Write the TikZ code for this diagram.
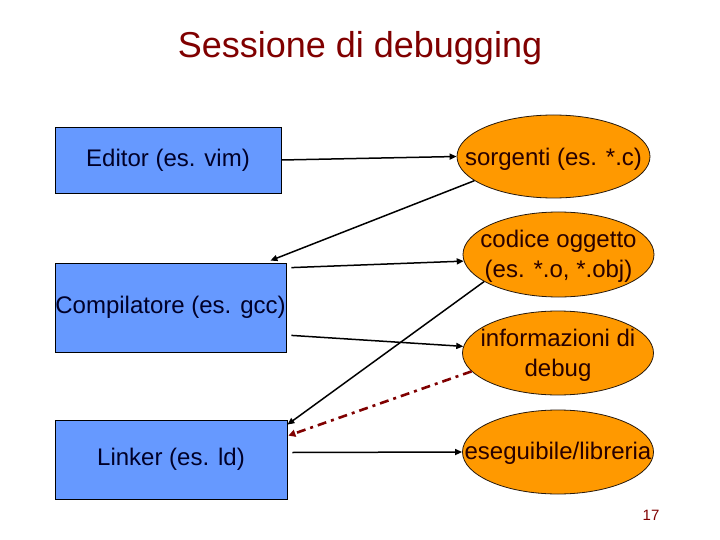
\documentclass[tikz,border=0pt]{standalone}
\usepackage{fontspec}
\setmainfont{Liberation Sans}
\usetikzlibrary{shapes.geometric,arrows.meta,calc}
\definecolor{titlered}{RGB}{128,0,0}
\definecolor{boxblue}{RGB}{102,153,255}
\definecolor{ellorange}{RGB}{255,153,0}
\definecolor{boxtext}{RGB}{0,0,40}
\definecolor{elltext}{RGB}{40,0,0}
\definecolor{dbgred}{RGB}{128,0,0}
\begin{document}
\begin{tikzpicture}[x=1pt,y=-1pt,
  procbox/.style={draw=black, line width=0.8pt, fill=boxblue, rectangle, inner sep=0pt,
    text=boxtext, font=\fontsize{24}{28.8}\selectfont},
  fileell/.style={draw=black!80!brown, line width=0.8pt, fill=ellorange, ellipse, inner sep=0pt,
    minimum width=191pt, minimum height=84pt},
  elltxt/.style={text=elltext, align=center, inner sep=0pt, font=\fontsize{24}{30}\selectfont},
  conn/.style={line width=1.5pt, black, -{Triangle[length=7pt,width=6pt]}},
  dbgconn/.style={line width=2.6pt, dbgred, dash pattern=on 9pt off 5pt on 3pt off 5pt,
    -{Triangle[length=7pt,width=7pt]}}]
\fill[white] (0,0) rectangle (720,540);
\useasboundingbox (0,0) rectangle (720,540);

\node[text=titlered, font=\fontsize{36}{40}\selectfont] (title) at (360,48) {Sessione di debugging};

\node[procbox, minimum width=226pt, minimum height=66pt] (editor) at (168,160) {Editor (es. vim)};
\node[procbox, minimum width=231pt, minimum height=89pt] (comp) at (170.5,307.5) {Compilatore (es. gcc)};
\node[procbox, minimum width=232pt, minimum height=79pt] (linker) at (171,459.5) {Linker (es. ld)};

\node[fileell, minimum width=193pt, minimum height=83pt] (sorg) at (553.5,156.5) {};
\node[elltxt] (sorgt) at ($(sorg.center)+(0,3)$) {sorgenti (es. *.c)};
\node[fileell, minimum height=85pt] (cod) at (558.5,254.5) {};
\node[elltxt] (codt) at ($(cod.center)+(0,2)$) {codice oggetto\\(es. *.o, *.obj)};
\node[fileell] (info) at (558,353) {};
\node[elltxt] (infot) at ($(info.center)+(0,2)$) {informazioni di\\debug};
\node[fileell] (eseg) at (558,452) {};
\node[elltxt] (esegt) at ($(eseg.center)+(0,1)$) {eseguibile/libreria};

\node[text=titlered, font=\fontsize{15}{18}\selectfont] (pagenum) at (651,515) {17};

\draw[conn] (editor.east) -- (sorg.west);
\draw[conn] (sorg.197) -- ($(comp.north east)+(-16,-2)$);
\draw[conn] ($(comp.north east)+(5,5)$) -- (cod.184);
\draw[conn] (cod.200) -- ($(linker.north east)+(0,5)$);
\draw[conn] ($(comp.south east)+(5,-17)$) -- (info.176);
\draw[dbgconn] (info.192) -- ($(linker.north east)+(1,16)$);
\draw[conn] ($(linker.east)+(5,-7)$) -- (eseg.west);
\end{tikzpicture}
\end{document}
